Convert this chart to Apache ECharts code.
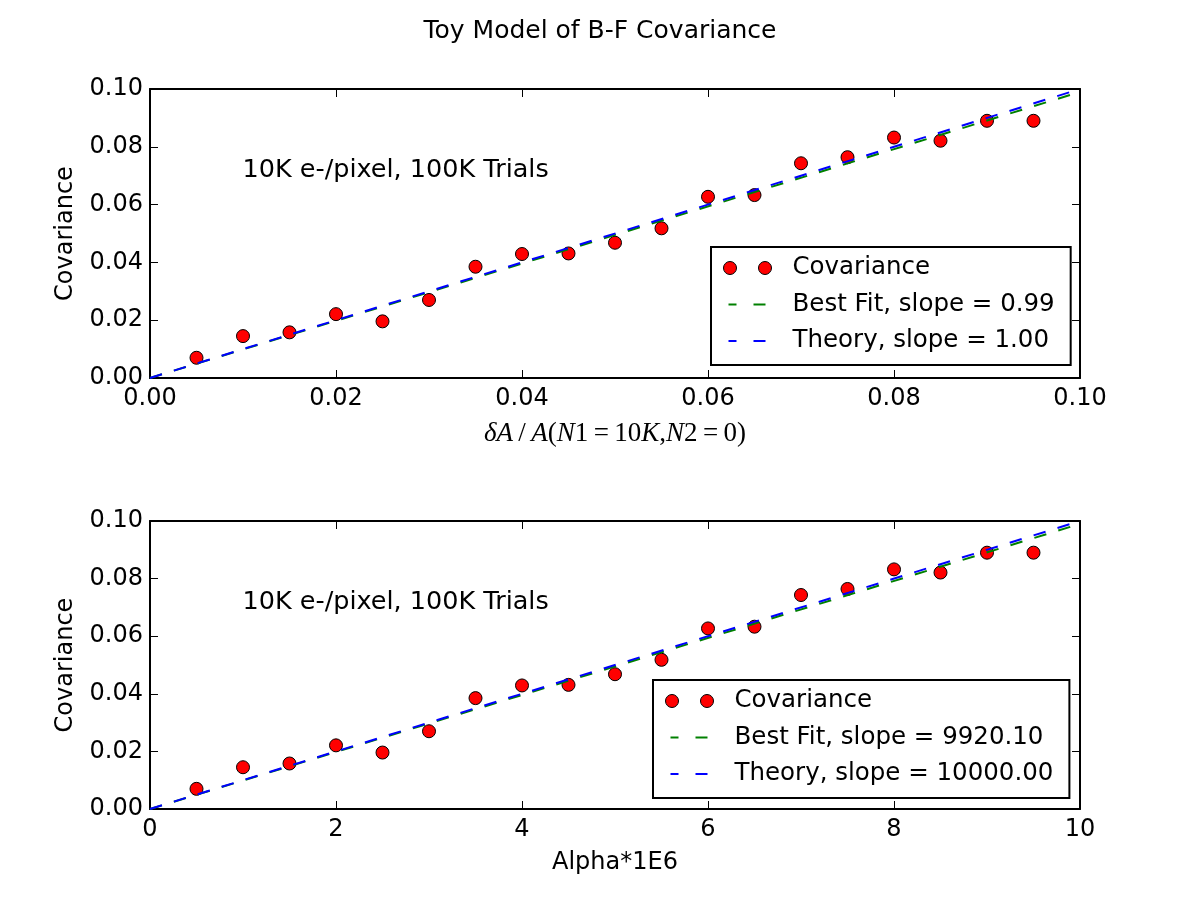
<!DOCTYPE html>
<html>
<head>
<meta charset="utf-8">
<script src="https://cdn.jsdelivr.net/npm/echarts@6/dist/echarts.min.js"></script>
<style>
  html, body { margin: 0; padding: 0; background: #fff; }
  #chart { width: 1200px; height: 900px; }
</style>
</head>
<body>
<div id="chart"></div>
<script>
// values
const deltaA = [0.005, 0.010, 0.015, 0.020, 0.025, 0.030, 0.035, 0.040, 0.045, 0.050,
                0.055, 0.060, 0.065, 0.070, 0.075, 0.080, 0.085, 0.090, 0.095];
const alphaE6 = [0.5, 1.0, 1.5, 2.0, 2.5, 3.0, 3.5, 4.0, 4.5, 5.0,
                 5.5, 6.0, 6.5, 7.0, 7.5, 8.0, 8.5, 9.0, 9.5];
const covariance = [0.0070, 0.0145, 0.0158, 0.0221, 0.0196, 0.0270, 0.0385, 0.0429, 0.0431, 0.0468,
                    0.0518, 0.0627, 0.0633, 0.0743, 0.0764, 0.0832, 0.0821, 0.0890, 0.0890];

// fit / theory lines (end points)
const lineXTop = [0, 0.099];
const lineXBottom = [0, 9.9];
const fitY = [0, 0.0980];
const theoryY = [0, 0.0990];

const fitNameTop = 'Best Fit, slope = 0.99';
const theoryNameTop = 'Theory, slope = 1.00';
const fitNameBottom = 'Best Fit, slope = 9920.10';
const theoryNameBottom = 'Theory, slope = 10000.00';
const noteText = '10K e-/pixel, 100K Trials';
const noteTop = [0.01, 0.07];
const noteBottom = [1, 0.07];

const FONT = 'DejaVu Sans';
const zip = (xs, ys) => xs.map((x, i) => [x, ys[i]]);

const dotsIcon = 'path://M0,6.5a6.5,6.5 0 1 0 13,0a6.5,6.5 0 1 0 -13,0zM35,6.5a6.5,6.5 0 1 0 13,0a6.5,6.5 0 1 0 -13,0z';
const dashIcon = 'path://M0,0M48,13M5,5.5h8v2h-8zM30,5.5h12v2h-12z';

const axisLine = { show: true, onZero: false, lineStyle: { color: '#000', width: 2 } };
const axisTick = { show: true, inside: true, length: 8, lineStyle: { color: '#000', width: 1 } };
const labelStyle = { color: '#000', fontFamily: FONT, fontSize: 24 };

function xAxes(gridIndex, max, interval, fmt, name, nameStyle) {
    return [{
        type: 'value', gridIndex, min: 0, max, interval,
        axisLine, axisTick, splitLine: { show: false },
        axisLabel: Object.assign({ margin: 9, formatter: fmt }, labelStyle),
        name, nameLocation: 'middle', nameGap: 42, nameTextStyle: nameStyle
    }, {
        type: 'value', gridIndex, position: 'top', min: 0, max, interval,
        axisLine, axisTick, splitLine: { show: false }, axisLabel: { show: false }
    }];
}

function yAxes(gridIndex) {
    return [{
        type: 'value', gridIndex, min: 0, max: 0.1, interval: 0.02,
        axisLine, axisTick, splitLine: { show: false },
        axisLabel: Object.assign({ margin: 7, formatter: v => v.toFixed(2) }, labelStyle),
        name: 'Covariance', nameLocation: 'middle', nameGap: 72,
        nameTextStyle: { color: '#000', fontFamily: FONT, fontSize: 24 }
    }, {
        type: 'value', gridIndex, position: 'right', min: 0, max: 0.1, interval: 0.02,
        axisLine, axisTick, splitLine: { show: false }, axisLabel: { show: false }
    }];
}

function legend(left, top, fitName, theoryName) {
    return {
        orient: 'vertical', left, top,
        padding: [8, 16, 11, 12],
        itemGap: 10.5, itemWidth: 48, itemHeight: 13,
        borderColor: '#000', borderWidth: 2, borderRadius: 0,
        backgroundColor: '#fff',
        selectedMode: false,
        textStyle: { color: '#000', fontFamily: FONT, fontSize: 24.5, lineHeight: 26, padding: [0, 0, 0, 16] },
        data: [
            { name: 'Covariance', icon: dotsIcon, itemStyle: { color: '#ff0000', borderColor: '#000', borderWidth: 1 } },
            { name: fitName, icon: dashIcon, itemStyle: { color: '#008000', borderWidth: 0 } },
            { name: theoryName, icon: dashIcon, itemStyle: { color: '#0000ff', borderWidth: 0 } }
        ]
    };
}

function plotSeries(xi, xs, lineX, fitName, theoryName, note) {
    return [{
        name: 'Covariance', type: 'scatter', xAxisIndex: xi, yAxisIndex: xi,
        data: zip(xs, covariance), symbol: 'circle', symbolSize: 13,
        itemStyle: { color: '#ff0000', borderColor: '#000', borderWidth: 1, opacity: 1 }
    }, {
        name: fitName, type: 'line', xAxisIndex: xi, yAxisIndex: xi,
        data: zip(lineX, fitY), symbol: 'none',
        lineStyle: { color: '#008000', width: 2, type: [12.5, 12.5] },
        itemStyle: { color: '#008000' }
    }, {
        name: theoryName, type: 'line', xAxisIndex: xi, yAxisIndex: xi,
        data: zip(lineX, theoryY), symbol: 'none',
        lineStyle: { color: '#0000ff', width: 2, type: [12.5, 12.5] },
        itemStyle: { color: '#0000ff' }
    }, {
        name: 'note', type: 'scatter', xAxisIndex: xi, yAxisIndex: xi, silent: true,
        data: [note], symbolSize: 1, itemStyle: { color: 'rgba(0,0,0,0)', opacity: 1 },
        label: {
            show: true, formatter: noteText, position: [0, -5],
            align: 'left', verticalAlign: 'middle', opacity: 1,
            color: '#000', fontFamily: FONT, fontSize: 25.5
        }
    }];
}

const mathName = '{i|δA}{r|\u2009/\u2009}{i|A}{r|(}{i|N}{r|1\u2009=\u200910}{i|K}{r|,}{i|N}{r|2\u2009=\u20090)}';
const mathStyle = {
    rich: {
        i: { fontFamily: 'Liberation Serif', fontStyle: 'italic', fontSize: 27, color: '#000' },
        r: { fontFamily: 'Liberation Serif', fontSize: 27, color: '#000' }
    }
};

const chart = echarts.init(document.getElementById('chart'));
chart.setOption({
    animation: false,
    backgroundColor: '#fff',
    title: {
        text: 'Toy Model of B-F Covariance', left: 'center', top: 14,
        textStyle: { color: '#000', fontFamily: FONT, fontSize: 25, fontWeight: 'normal' }
    },
    grid: [
        { left: 150, right: 120, top: 89, height: 289 },
        { left: 150, right: 120, top: 521, height: 288 }
    ],
    xAxis: [
        ...xAxes(0, 0.1, 0.02, v => v.toFixed(2), mathName, mathStyle),
        ...xAxes(1, 10, 2, v => String(Math.round(v)), 'Alpha*1E6',
            { color: '#000', fontFamily: FONT, fontSize: 24 })
    ],
    yAxis: [...yAxes(0), ...yAxes(1)],
    legend: [
        legend(711, 247, fitNameTop, theoryNameTop),
        legend(653, 680, fitNameBottom, theoryNameBottom)
    ],
    series: [
        ...plotSeries(0, deltaA, lineXTop, fitNameTop, theoryNameTop, noteTop),
        ...plotSeries(2, alphaE6, lineXBottom, fitNameBottom, theoryNameBottom, noteBottom)
    ]
});
</script>
</body>
</html>
